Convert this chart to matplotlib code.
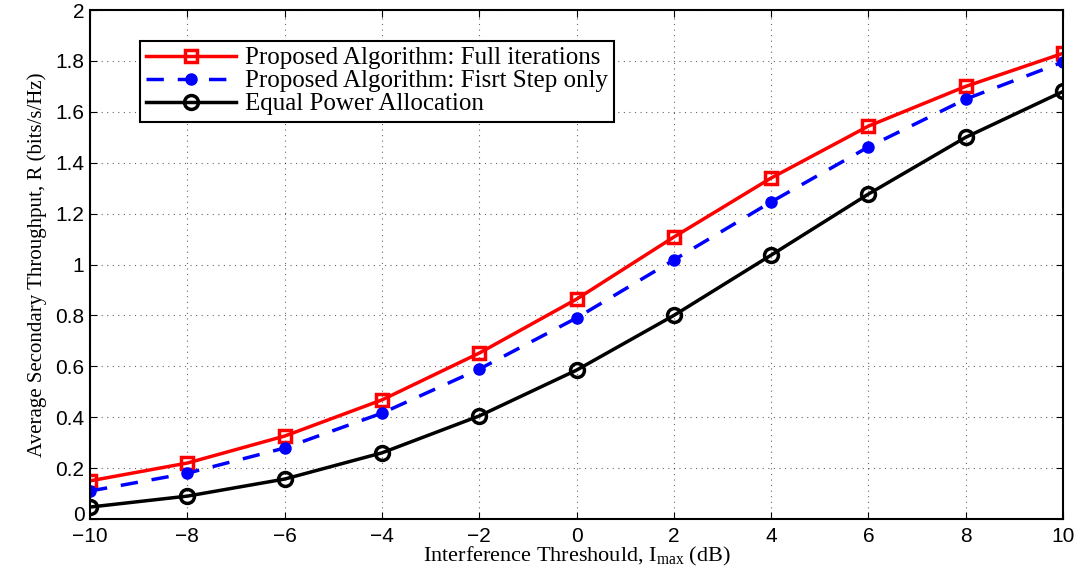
import numpy as np
import matplotlib.pyplot as plt
import matplotlib.transforms as mtransforms

# data
imax_db = [-10, -8, -6, -4, -2, 0, 2, 4, 6, 8, 10]
full_iter = [0.15, 0.22, 0.326, 0.468, 0.652, 0.864, 1.108, 1.34, 1.544, 1.70, 1.83]
first_step = [0.11, 0.18, 0.279, 0.416, 0.589, 0.79, 1.018, 1.246, 1.462, 1.65, 1.796]
equal_power = [0.047, 0.09, 0.157, 0.26, 0.405, 0.585, 0.80, 1.037, 1.277, 1.50, 1.68]

xticks = [-10, -8, -6, -4, -2, 0, 2, 4, 6, 8, 10]
yticks = [0, 0.2, 0.4, 0.6, 0.8, 1, 1.2, 1.4, 1.6, 1.8, 2]

plt.rcParams['font.family'] = 'Liberation Sans'
fig = plt.figure(figsize=(10.81, 5.73), dpi=100)
ax = fig.add_axes([0.0833, 0.0942, 0.9001, 0.8883])

ax.plot(imax_db, full_iter, '-s', color='red', lw=2.5, ms=9, mfc='none', mew=2.5,
        label='Proposed Algorithm: Full iterations')
ax.plot(imax_db, first_step, '--o', color='blue', lw=2.5, ms=8, dashes=(5, 4),
        label='Proposed Algorithm: Fisrt Step only')
ax.plot(imax_db, equal_power, '-o', color='black', lw=2.5, ms=10, mfc='none', mew=2.5,
        label='Equal Power Allocation')

ax.set_xlim(-10, 10)
ax.set_ylim(0, 2)
ax.set_xticks(xticks)
ax.set_yticks(yticks)
ax.set_xticklabels(['\u2212' + str(-t) if t < 0 else str(t) for t in xticks])
ax.set_yticklabels(['0', '0.2', '0.4', '0.6', '0.8', '1', '1.2', '1.4', '1.6', '1.8', '2'])
ax.tick_params(direction='in', labelsize=15, length=5, top=True, right=True, pad=4)
ax.tick_params(axis='x', pad=6)
ax.grid(True, color='black', linestyle=(0, (1, 4)), linewidth=0.8, alpha=0.6)
for s in ax.spines.values():
    s.set_linewidth(1.5)

# lift the y "0" a little so it clears the "-10" below it
lbl0 = ax.get_yticklabels()[0]
lbl0.set_transform(lbl0.get_transform() + mtransforms.ScaledTranslation(0, 4 / 72, fig.dpi_scale_trans))

ax.set_xlabel('Interference Threshould, $\\mathregular{I_{max}}$ (dB)',
              family='Liberation Serif', fontsize=16, labelpad=-1)
ax.set_ylabel('Average Secondary Throughput, R (bits/s/Hz)',
              family='Liberation Serif', fontsize=15, labelpad=6)

leg = ax.legend(loc='upper left', bbox_to_anchor=(0.051, 0.94), fancybox=False,
                edgecolor='black', prop={'family': 'Liberation Serif', 'size': 18},
                handlelength=3.6, handletextpad=0.35, borderpad=0.25,
                labelspacing=0.02, framealpha=1, borderaxespad=0)
leg.get_frame().set_linewidth(1.5)

plt.savefig('out.png', dpi=100)
